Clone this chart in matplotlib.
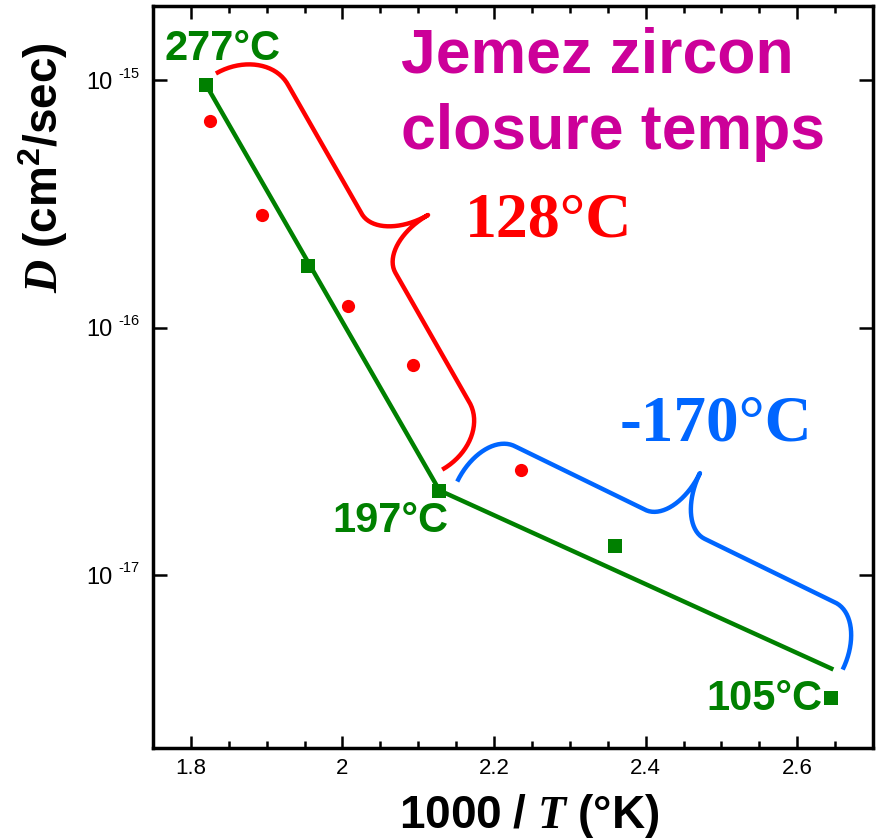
"""Jemez zircon closure temperatures: Arrhenius plot of D vs 1000/T."""

import numpy as np
import matplotlib
matplotlib.use("Agg")
import matplotlib.pyplot as plt
from matplotlib.ticker import MultipleLocator, NullLocator, FixedLocator
from matplotlib.transforms import offset_copy

GREEN = "#008000"
RED = "#FF0000"
BLUE = "#0066FF"
MAGENTA = "#CC0099"

# green squares (measured steps)
sq_x = [1.820, 1.955, 2.128, 2.359, 2.645]
sq_d = [9.6e-16, 1.77e-16, 2.18e-17, 1.31e-17, 3.2e-18]
# red circles
dot_x = [1.825, 1.894, 2.007, 2.093, 2.235]
dot_d = [6.83e-16, 2.87e-16, 1.22e-16, 7.05e-17, 2.67e-17]
# two-segment fit through the squares
fit_x = [1.820, 2.128, 2.645]
fit_d = [9.6e-16, 2.2e-17, 4.19e-18]

# brace end points (1000/T, D)
brace_red = [(1.833, 1.067e-15), (2.1316, 2.67e-17)]
brace_blue = [(2.1514, 2.39e-17), (2.660, 4.15e-18)]

x_ticks = [1.8, 2.0, 2.2, 2.4, 2.6]
x_ticklabels = ["1.8", "2", "2.2", "2.4", "2.6"]
y_ticks = [1e-17, 1e-16, 1e-15]
y_exponents = ["-17", "-16", "-15"]

plt.rcParams.update({
    "font.family": "Liberation Sans",
    "mathtext.fontset": "custom",
    "mathtext.rm": "Liberation Sans:bold",
    "mathtext.bf": "Liberation Sans:bold",
    "mathtext.it": "Liberation Serif:italic:bold",
})


def brace(ax, p0, p1, h, r, rt, **kw):
    """Curly brace from p0 to p1 (data), tip pointing up-right, sized in pixels."""
    s = ax.transData.transform(p0)
    e = ax.transData.transform(p1)
    L = np.hypot(*(e - s))
    d = (e - s) / L
    n = np.array([-d[1], d[0]])
    t, k = L / 2, 0.55
    segs = [
        [(0, -h), (0, -h + k * h), (r - k * r, 0), (r, 0)],
        [(r, 0), (r, 0), (t - rt, 0), (t - rt, 0)],
        [(t - rt, 0), (t - rt + k * rt, 0), (t, h - k * h), (t, h)],
        [(t, h), (t, h - k * h), (t + rt - k * rt, 0), (t + rt, 0)],
        [(t + rt, 0), (t + rt, 0), (L - r, 0), (L - r, 0)],
        [(L - r, 0), (L - r + k * r, 0), (L, -h + k * h), (L, -h)],
    ]
    tt = np.linspace(0, 1, 40)[:, None]
    pts = []
    for c in segs:
        c = np.array(c, float)
        pts.append((1 - tt) ** 3 * c[0] + 3 * (1 - tt) ** 2 * tt * c[1]
                   + 3 * (1 - tt) * tt ** 2 * c[2] + tt ** 3 * c[3])
    uv = np.vstack(pts)
    xy = s + uv[:, :1] * d + (uv[:, 1:] + h) * n
    data = ax.transData.inverted().transform(xy)
    ax.plot(data[:, 0], data[:, 1], solid_capstyle="butt", **kw)


fig = plt.figure(figsize=(8.78, 8.39), dpi=100)
ax = fig.add_axes([153 / 878, 91 / 839, 720 / 878, 742 / 839])

ax.set_yscale("log")
ax.set_xlim(1.75, 2.70)
ax.set_ylim(2e-18, 2e-15)

ax.plot(fit_x, fit_d, color=GREEN, lw=3.2, zorder=3)
ax.plot(sq_x, sq_d, "s", color=GREEN, ms=10.5, mew=0, zorder=4)
ax.plot(dot_x, dot_d, "o", color=RED, ms=9.5, mew=0, zorder=4)

brace(ax, *brace_red, h=57, r=45, rt=34, color=RED, lw=3.2, zorder=2)
brace(ax, *brace_blue, h=57, r=36, rt=33, color=BLUE, lw=3.2, zorder=2)

# axes styling
for sp in ax.spines.values():
    sp.set_linewidth(2.5)
ax.xaxis.set_major_locator(FixedLocator(x_ticks))
ax.set_xticklabels(x_ticklabels)
ax.xaxis.set_minor_locator(MultipleLocator(0.05))
ax.yaxis.set_major_locator(FixedLocator(y_ticks))
ax.yaxis.set_minor_locator(NullLocator())
ax.set_yticklabels(["10"] * len(y_ticks))
ax.tick_params(which="both", direction="in", top=True, right=True, width=1.8)
ax.tick_params(axis="x", which="major", length=9, pad=7, labelsize=16)
ax.tick_params(axis="x", which="minor", length=5)
ax.tick_params(axis="y", which="major", length=10, pad=29, labelsize=17)

sup_tr = offset_copy(ax.get_yaxis_transform(), fig=fig, x=-9.4, y=2, units="points")
for yv, ex in zip(y_ticks, y_exponents):
    ax.text(0, yv, ex, transform=sup_tr, ha="right", va="baseline", fontsize=10.5)

# axis labels
fig.text(529 / 878, 1 - 828 / 839, r"$\mathrm{1000\ /\ }\mathit{T}\mathrm{\ (°K)}$",
         ha="center", va="baseline", fontsize=33)
fig.text(43 / 878, 1 - 168 / 839, r"$\mathit{D}\mathrm{\ (cm^2/sec)}$",
         ha="center", va="center", rotation=90, fontsize=33)

# annotations
bold_sans = dict(fontweight="bold", va="baseline")
ax.text(1.8423, 1.205e-15, "277°C", color=GREEN, ha="center", fontsize=30, **bold_sans)
ax.text(2.0629, 1.50e-17, "197°C", color=GREEN, ha="center", fontsize=30, **bold_sans)
ax.text(2.5563, 2.86e-18, "105°C", color=GREEN, ha="center", fontsize=30, **bold_sans)
ax.text(2.0774, 1.077e-15, "Jemez zircon", color=MAGENTA, ha="left", fontsize=45, **bold_sans)
ax.text(2.0774, 5.26e-16, "closure temps", color=MAGENTA, ha="left", fontsize=45, **bold_sans)
ax.text(2.2716, 2.34e-16, "128°C", color=RED, ha="center", fontsize=46,
        family="Liberation Serif", **bold_sans)
ax.text(2.4922, 3.50e-17, "-170°C", color=BLUE, ha="center", fontsize=47,
        family="Liberation Serif", **bold_sans)

fig.savefig("out.png", dpi=100)
